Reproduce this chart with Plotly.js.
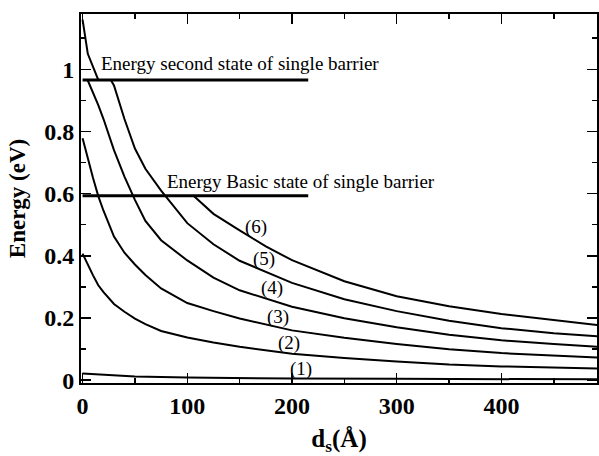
<!DOCTYPE html>
<html>
<head>
<meta charset="utf-8">
<script src="https://cdn.plot.ly/plotly-3.0.1.min.js"></script>
<style>html,body{margin:0;padding:0;background:#fff;}#chart{width:599px;height:456px;}</style>
</head>
<body>
<div id="chart"></div>
<script>
// Curve (1)
const x1 = [0, 25, 50, 100, 150, 200, 300, 400, 495];
const y1 = [0.021, 0.016, 0.012, 0.008, 0.006, 0.005, 0.004, 0.003, 0.0025];
// Curve (2)
const x2 = [0,5,10,15,20,30,40,50,60,75,100,125,150,200,250,300,350,400,450,495];
const y2 = [0.407,0.37,0.337,0.305,0.283,0.245,0.220,0.198,0.180,0.158,0.137,0.121,0.107,0.085,0.071,0.060,0.050,0.044,0.040,0.037];
// Curve (3)
const x3 = [0,5,10,15,20,30,40,50,60,75,100,125,150,200,250,300,350,400,450,495];
const y3 = [0.778,0.71,0.65,0.592,0.545,0.462,0.410,0.372,0.338,0.295,0.248,0.222,0.198,0.160,0.136,0.116,0.099,0.087,0.079,0.072];
// Curve (4)
const x4 = [5,10,15,20,30,40,50,60,75,100,125,150,200,250,300,350,400,450,495];
const y4 = [0.964,0.925,0.885,0.84,0.74,0.655,0.58,0.512,0.45,0.385,0.330,0.289,0.236,0.199,0.170,0.146,0.128,0.116,0.107];
// Curve (5)
const x5 = [0,5,15,27,30,40,50,60,75,100,125,150,200,250,300,350,400,450,495];
const y5 = [1.16,1.05,0.966,0.966,0.948,0.84,0.745,0.68,0.61,0.505,0.437,0.384,0.313,0.260,0.222,0.191,0.167,0.151,0.140];
// Curve (6)
const x6 = [106,125,150,175,200,250,300,350,400,450,495];
const y6 = [0.593,0.535,0.482,0.430,0.386,0.318,0.270,0.238,0.213,0.193,0.176];
// Single-barrier reference levels
const xLevel = [0, 215.5];
const eSecond = 0.966;
const eBasic = 0.593;
const secondLabel = "Energy second state of single barrier";
const basicLabel = "Energy Basic state of single barrier";
// Curve labels
const curveLabels = ["(1)", "(2)", "(3)", "(4)", "(5)", "(6)"];
const labelX = [209, 197, 187, 181, 173, 166];
const labelY = [0.037, 0.118, 0.203, 0.295, 0.391, 0.493];

const serif = "Liberation Serif, Times New Roman, serif";
const curves = [[x1,y1],[x2,y2],[x3,y3],[x4,y4],[x5,y5],[x6,y6]];
const traces = curves.map(c => ({x: c[0], y: c[1], mode: 'lines', type: 'scatter',
  line: {color: '#000', width: 2}, hoverinfo: 'skip'}));
traces.push({x: xLevel, y: [eSecond, eSecond], mode: 'lines', line: {color: '#000', width: 3}});
traces.push({x: xLevel, y: [eBasic, eBasic], mode: 'lines', line: {color: '#000', width: 3}});

const annotations = curveLabels.map((t, i) => ({x: labelX[i], y: labelY[i], text: t, showarrow: false,
  xanchor: 'center', yanchor: 'middle', font: {family: serif, size: 19, color: '#000'}}));
annotations.push({x: 16, y: 1.018, text: secondLabel, showarrow: false, xanchor: 'left', yanchor: 'middle',
  font: {family: serif, size: 19, color: '#000'}});
annotations.push({x: 79, y: 0.638, text: basicLabel, showarrow: false, xanchor: 'left', yanchor: 'middle',
  font: {family: serif, size: 19, color: '#000'}});

const axisCommon = {
  showgrid: false, zeroline: false, showline: true, linecolor: '#000', linewidth: 2,
  mirror: 'ticks', ticks: 'inside', ticklen: 10, tickwidth: 1.5, tickcolor: '#000',
  tickfont: {family: serif, size: 24, color: '#000', weight: 'bold'}
};
const layout = {
  width: 599, height: 456, showlegend: false,
  paper_bgcolor: '#fff', plot_bgcolor: '#fff',
  margin: {l: 81, r: 2, t: 14, b: 73},
  xaxis: Object.assign({}, axisCommon, {
    range: [-1.5, 491.3], dtick: 100, tick0: 0,
    minor: {ticks: 'inside', ticklen: 5, dtick: 50, tickwidth: 1.5, tickcolor: '#000'},
    title: {text: 'd<sub>s</sub>(Å)', standoff: 14, font: {family: serif, size: 25, color: '#000', weight: 'bold'}}
  }),
  yaxis: Object.assign({}, axisCommon, {
    range: [-0.0093, 1.178], dtick: 0.2, tick0: 0,
    minor: {ticks: 'inside', ticklen: 5, dtick: 0.1, tickwidth: 1.5, tickcolor: '#000'},
    title: {text: 'Energy (eV)', standoff: 12, font: {family: serif, size: 23, color: '#000', weight: 'bold'}}
  }),
  annotations: annotations
};
Plotly.newPlot('chart', traces, layout, {staticPlot: true});
</script>
</body>
</html>
